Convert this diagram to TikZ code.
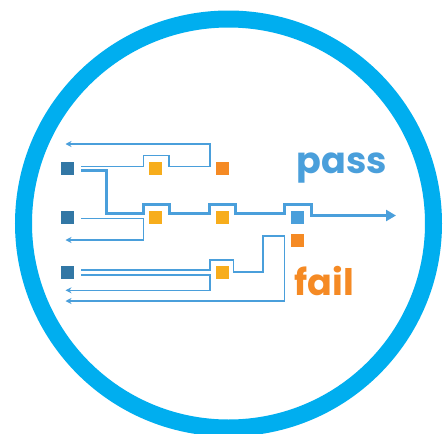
\documentclass[tikz,border=0pt]{standalone}
\usepackage{fontspec}
\newfontfamily\labelfont{Poppins}
\usetikzlibrary{arrows.meta}
\definecolor{ringcyan}{HTML}{00AEEF}
\definecolor{wire}{HTML}{4A9FDB}
\definecolor{inblue}{HTML}{3277A5}
\definecolor{gold}{HTML}{F7AD1C}
\definecolor{rust}{HTML}{F58A24}
\tikzset{
  sq/.style={rectangle, minimum size=13pt, inner sep=0pt, fill=#1},
  thin wire/.style={draw=wire, line width=1.4pt},
  thick wire/.style={draw=wire, line width=3pt},
  back/.style={thin wire, -{Stealth[length=6pt,width=6pt]}},
  word/.style={inner sep=0pt, anchor=base west, font=\labelfont\bfseries\fontsize{36.5}{36.5}\selectfont},
}
\begin{document}
\begin{tikzpicture}[x=1pt,y=-1pt]
\useasboundingbox (0,0) rectangle (445,434);
\fill[white] (0,0) rectangle (445,434);
% outer ring
\draw[ringcyan, line width=17pt] (228.5,223.5) ellipse [x radius=205, y radius=204.5];

% squares
\node[sq=inblue] (s1) at (67.5,168.5) {};
\node[sq=inblue] (s2) at (67.5,217.5) {};
\node[sq=inblue] (s3) at (67.5,272.5) {};
\node[sq=gold] (y1) at (155.5,168.5) {};
\node[sq=rust] (o1) at (222.5,168.5) {};
\node[sq=gold] (y2) at (155.5,217.5) {};
\node[sq=gold] (y3) at (222.5,217.5) {};
\node[sq=wire] (b1) at (297.5,217.5) {};
\node[sq=rust] (o2) at (297.5,240.5) {};
\node[sq=gold] (y4) at (222.5,272.5) {};

% wire ends
\coordinate (a1) at (81,166.3);
\coordinate (a2) at (81,170.3);
\coordinate (a3) at (81,218.7);
\coordinate (a4) at (81,270);
\coordinate (a5) at (81,275);
\coordinate (r1) at (65.5,144);
\coordinate (r2) at (65.5,240);
\coordinate (r3) at (65.5,290.3);
\coordinate (r4) at (65.5,301);
\coordinate (out) at (396,215.5);

% first row: hop over the first test, then back
\draw[back] (a1) -| (143.7,155.3) -| (169,166.3) -| (210,144) -- (r1);

% main pass line
\draw[thick wire, -{Triangle[length=10pt,width=11pt]}]
  (a2) -| (106.7,213.7) -| (143.7,204) -| (169,213.7) -| (209.3,204) -| (235.7,213.7)
  -| (284.3,204) -| (311.7,215.5) -- (out);

% second row
\draw[back] (a3) -| (143.7,240) -- (r2);

% third row
\draw[back] (a4) -| (210,260) -| (233.3,272) -| (263,236) -| (284.3,301) -- (r4);
\draw[back] (a5) -| (210,290.3) -- (r3);

% labels
\node[word, text=wire] (pass) at (296.5,173) {pass};
\node[word, text=rust] (fail) at (294.5,295) {fail};
\end{tikzpicture}
\end{document}
